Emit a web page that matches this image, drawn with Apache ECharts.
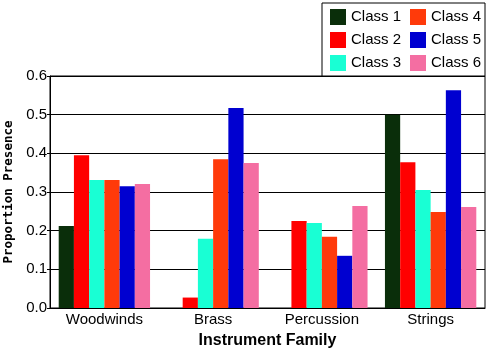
<!DOCTYPE html>
<html>
<head>
<meta charset="utf-8">
<script src="https://cdn.jsdelivr.net/npm/echarts@6/dist/echarts.min.js"></script>
<style>
  html, body { margin: 0; padding: 0; background: #fff; }
  #main { width: 496px; height: 354px; }
</style>
</head>
<body>
<div id="main"></div>
<script>
// data
var families = ['Woodwinds', 'Brass', 'Percussion', 'Strings'];
var classNames = ['Class 1', 'Class 2', 'Class 3', 'Class 4', 'Class 5', 'Class 6'];
var class1 = [0.212, 0, 0, 0.500];
var class2 = [0.395, 0.027, 0.225, 0.377];
var class3 = [0.331, 0.179, 0.220, 0.305];
var class4 = [0.331, 0.385, 0.184, 0.248];
var class5 = [0.315, 0.517, 0.135, 0.563];
var class6 = [0.321, 0.375, 0.264, 0.261];
var colors = ['#0a2e0a', '#ff0000', '#19ffd4', '#ff3a0a', '#0000d0', '#f46ea2'];

var values = [class1, class2, class3, class4, class5, class6];
var font = 'Liberation Sans';

var myChart = echarts.init(document.getElementById('main'));

var series = classNames.map(function (name, i) {
    return {
        name: name,
        type: 'bar',
        data: values[i],
        barGap: '0%',
        barCategoryGap: '16%',
        itemStyle: { color: colors[i] }
    };
});

var legendStyle = {
    orient: 'vertical',
    itemWidth: 16,
    itemHeight: 16,
    itemGap: 7,
    icon: 'rect',
    textStyle: { fontFamily: font, fontSize: 15, color: '#000' }
};

var option = {
    animation: false,
    color: colors,
    graphic: [{
        type: 'rect',
        shape: { x: 322, y: 3, width: 163, height: 73 },
        style: { fill: '#fff', stroke: '#000', lineWidth: 1 },
        z: 0
    }],
    legend: [
        Object.assign({ left: 325, top: 4, data: classNames.slice(0, 3) }, legendStyle),
        Object.assign({ left: 405, top: 4, data: classNames.slice(3, 6) }, legendStyle)
    ],
    grid: {
        left: 50, right: 11, top: 76, bottom: 46,
        outerBoundsMode: 'none',
        containLabel: false,
        show: true, borderColor: '#000', borderWidth: 1
    },
    xAxis: {
        type: 'category',
        data: families,
        name: 'Instrument Family',
        nameLocation: 'middle',
        nameGap: 25,
        nameTextStyle: { fontFamily: font, fontSize: 16, fontWeight: 'bold', color: '#000' },
        axisLine: { lineStyle: { color: '#000' } },
        axisTick: { show: false },
        axisLabel: { fontFamily: font, fontSize: 15, color: '#000', margin: 4 }
    },
    yAxis: {
        type: 'value',
        min: 0,
        max: 0.6,
        interval: 0.1,
        name: 'Proportion Presence',
        nameLocation: 'middle',
        nameGap: 28,
        nameTextStyle: { fontFamily: 'DejaVu Sans Mono', fontSize: 12.5, fontWeight: 'bold', color: '#000' },
        axisLine: { show: true, lineStyle: { color: '#000' } },
        axisTick: { show: true, length: 3, lineStyle: { color: '#000' } },
        axisLabel: {
            fontFamily: font, fontSize: 15, color: '#000', margin: 3,
            formatter: function (v) { return v.toFixed(1); }
        },
        splitLine: { lineStyle: { color: '#000', width: 1 } }
    },
    series: series
};

myChart.setOption(option);
</script>
</body>
</html>
